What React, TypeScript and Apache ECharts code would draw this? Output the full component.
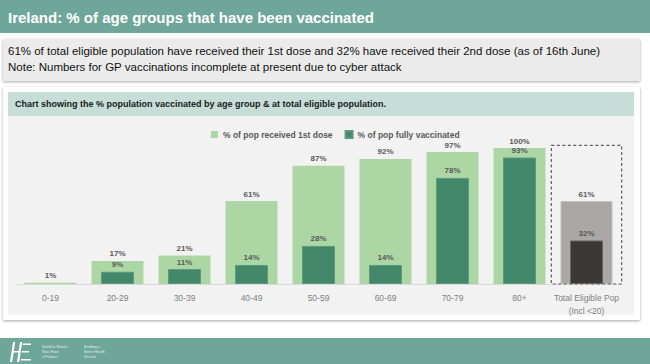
import React, { useEffect, useRef } from "react";
import * as echarts from "echarts";

const categories = ["0-19", "20-29", "30-39", "40-49", "50-59", "60-69", "70-79", "80+", "Total Eligible Pop\n(Incl <20)"];
const firstDose = [1, 17, 21, 61, 87, 92, 97, 100, 61];
const fullyVaccinated = [null, 9, 11, 14, 28, 14, 78, 93, 32];
const seriesNames = ["% of pop received 1st dose", "% of pop fully vaccinated"];

const TEAL = "#6ea69a";
const LIGHT = "#acd7a5";
const DARK = "#43886a";
const TOTAL_LIGHT = "#aba7a6";
const TOTAL_DARK = "#3a3938";

const hsePath =
  "M4 0 L6.2 0 L3.2 20 L1 20 Z M11 0 L13.2 0 L10.2 20 L8 20 Z M3.6 9 L11 9 L10.8 10.6 L3.4 10.6 Z M14 1.5 L22 1.5 L21.8 3 L13.8 3 Z M13 9 L20 9 L19.8 10.5 L12.8 10.5 Z M12 17 L22 17 L21.8 18.5 L11.8 18.5 Z";
echarts.graphic.registerShape("hselogo", echarts.graphic.extendPath(hsePath as any, {}) as any);

function baseGraphics(): any[] {
  const font = "Liberation Sans, Arial, sans-serif";
  return [
    { id: "hdr", type: "rect", shape: { x: 0, y: 0, width: 650, height: 33 }, style: { fill: TEAL }, z: -10 },
    {
      id: "hdrText", type: "text", x: 8, y: 17,
      style: { text: "Ireland: % of age groups that have been vaccinated", fill: "#ffffff", font: `bold 15px ${font}`, textVerticalAlign: "middle" },
      z: -9,
    },
    {
      id: "note", type: "rect", shape: { x: 3, y: 39, width: 637, height: 42 },
      style: { fill: "#ebebeb", shadowColor: "rgba(0,0,0,0.35)", shadowBlur: 3, shadowOffsetY: 1 }, z: -10,
    },
    {
      id: "note1", type: "text", x: 8, y: 51,
      style: { text: "61% of total eligible population have received their 1st dose and 32% have received their 2nd dose (as of 16th June)", fill: "#111111", font: `11.5px ${font}`, textVerticalAlign: "middle" },
      z: -9,
    },
    {
      id: "note2", type: "text", x: 8, y: 67,
      style: { text: "Note: Numbers for GP vaccinations incomplete at present due to cyber attack", fill: "#111111", font: `11.5px ${font}`, textVerticalAlign: "middle" },
      z: -9,
    },
    {
      id: "panel", type: "rect", shape: { x: 3, y: 87, width: 637, height: 233 },
      style: { fill: "#ffffff", shadowColor: "rgba(0,0,0,0.35)", shadowBlur: 3, shadowOffsetY: 1 }, z: -10,
    },
    { id: "strip", type: "rect", shape: { x: 8, y: 92, width: 626, height: 24 }, style: { fill: "#c6ddd8" }, z: -9 },
    {
      id: "stripText", type: "text", x: 15, y: 104,
      style: { text: "Chart showing the % population vaccinated by age group & at total eligible population.", fill: "#1a1a1a", font: `bold 9px ${font}`, textVerticalAlign: "middle" },
      z: -8,
    },
    { id: "plotBg", type: "rect", shape: { x: 8, y: 116, width: 626, height: 199 }, style: { fill: "#f2f2f2" }, z: -9 },
    { id: "ftr", type: "rect", shape: { x: 0, y: 338, width: 650, height: 26 }, style: { fill: TEAL }, z: -10 },
    { id: "logo", type: "hselogo", x: 9, y: 342, scaleX: 1, scaleY: 1, style: { fill: "#ffffff" }, z: -8 },
    {
      id: "logoT1", type: "text", x: 42, y: 344,
      style: { text: "Seirbhís Sláinte\nNíos Fearr\ná Forbairt", fill: "rgba(255,255,255,0.85)", font: `3.6px ${font}`, lineHeight: 5 },
      z: -8,
    },
    {
      id: "logoT2", type: "text", x: 84, y: 344,
      style: { text: "Building a\nBetter Health\nService", fill: "rgba(255,255,255,0.85)", font: `3.6px ${font}`, lineHeight: 5 },
      z: -8,
    },
  ];
}

function buildOption(extra: any[]): any {
  const labelStyle = {
    show: true,
    position: "top",
    distance: 3,
    formatter: "{c}%",
    color: "#595959",
    fontSize: 8,
    fontWeight: "bold",
    fontFamily: "Liberation Sans, Arial, sans-serif",
  };
  const last = categories.length - 1;
  return {
    animation: false,
    backgroundColor: "#ffffff",
    textStyle: { fontFamily: "Liberation Sans, Arial, sans-serif" },
    graphic: [...baseGraphics(), ...extra],
    legend: {
      data: seriesNames,
      left: 206,
      top: 125,
      itemWidth: 7,
      itemHeight: 7,
      itemGap: 12,
      icon: "rect",
      textStyle: { color: "#595959", fontSize: 8.5, fontWeight: "bold" },
    },
    grid: { left: 17, right: 30, top: 148, bottom: 80, containLabel: false },
    xAxis: [
      {
        type: "category",
        data: categories,
        axisLine: { show: true, lineStyle: { color: "#d9d9d9", width: 1 } },
        axisTick: { show: false },
        axisLabel: { color: "#7f7f7f", fontSize: 8.5, margin: 7, lineHeight: 13, interval: 0 },
      },
      { type: "category", data: categories, show: false },
    ],
    yAxis: { type: "value", min: 0, max: 100, show: false, splitLine: { show: false } },
    series: [
      {
        name: seriesNames[0],
        type: "bar",
        xAxisIndex: 0,
        barWidth: 52,
        itemStyle: { color: LIGHT },
        label: labelStyle,
        data: firstDose.map((v, i) =>
          i === last ? { value: v, itemStyle: { color: TOTAL_LIGHT, borderColor: "#c4c0bf", borderWidth: 1 } } : v
        ),
        z: 2,
      },
      {
        name: seriesNames[1],
        type: "bar",
        xAxisIndex: 1,
        barWidth: 33,
        itemStyle: { color: DARK, borderColor: "#5b9a7d", borderWidth: 1 },
        label: labelStyle,
        data: fullyVaccinated.map((v, i) =>
          i === last ? { value: v, itemStyle: { color: TOTAL_DARK, borderColor: "#666", borderWidth: 1 } } : v
        ),
        z: 3,
      },
    ],
  };
}

export default function App() {
  const ref = useRef<HTMLDivElement>(null);
  useEffect(() => {
    if (!ref.current) return;
    const chart = echarts.init(ref.current, null, { renderer: "svg", width: 650, height: 364 });
    chart.setOption(buildOption([]));
    const last = categories.length - 1;
    const cx = chart.convertToPixel({ xAxisIndex: 0 }, categories[last]) as number;
    const cPrev = chart.convertToPixel({ xAxisIndex: 0 }, categories[last - 1]) as number;
    const band = cx - cPrev;
    const yTop = chart.convertToPixel({ yAxisIndex: 0 }, 102) as number;
    const yBot = chart.convertToPixel({ yAxisIndex: 0 }, 0) as number;
    const w = band * 1.05;
    const dash = {
      id: "dashBox",
      type: "rect",
      shape: { x: cx - w / 2, y: yTop, width: w, height: yBot - yTop },
      style: { fill: "none", stroke: "#5e5e5e", lineWidth: 1.2, lineDash: [3, 2.5] },
      z: 10,
    };
    chart.setOption(buildOption([dash]), { notMerge: true });
    return () => chart.dispose();
  }, []);
  return (
    <div style={{ position: "fixed", left: 0, top: 0, width: 650, height: 364 }}>
      <div ref={ref} style={{ width: 650, height: 364 }} />
    </div>
  );
}
